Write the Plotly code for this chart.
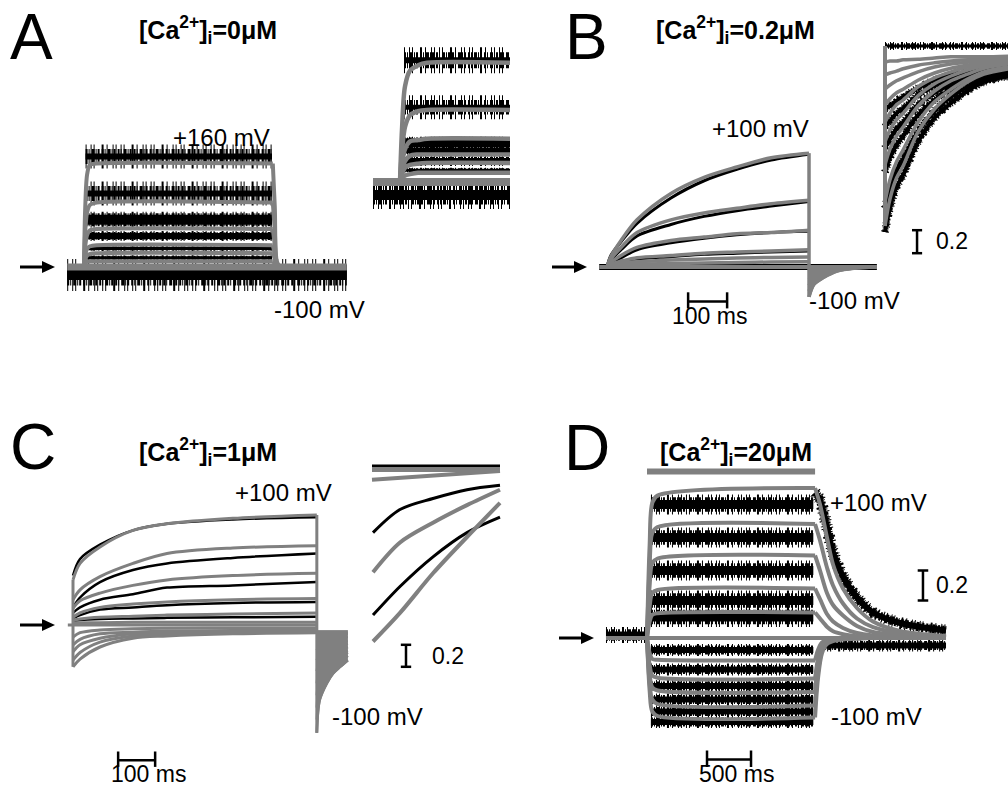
import plotly.graph_objects as go

W, H = 1008, 792
GREY = "#808080"
BLACK = "#000000"
FONT = "Liberation Sans, Arial, sans-serif"

# ============================ DATA ============================
# time in ms, current normalised (scale bar = 0.2)

# ---- Panel A : [Ca2+]i = 0 uM ----
A_t_on = [0, 3, 8, 15, 32, 472]
A_fit_on = [
    [0, 0.51, 0.81, 0.89, 0.90, 0.90],
    [0, 0.30, 0.48, 0.54, 0.56, 0.56],
    [0, 0.18, 0.28, 0.32, 0.33, 0.33],
    [0, 0.10, 0.16, 0.18, 0.19, 0.19],
    [0, 0.06, 0.10, 0.115, 0.12, 0.12],
    [0, 0.03, 0.045, 0.05, 0.05, 0.05],
]
A_t_off = [472, 477, 482, 490]
A_fit_off = [
    [0.90, 0.52, 0.05, 0],
    [0.56, 0.32, 0.03, 0],
    [0.33, 0.19, 0.02, 0],
    [0.19, 0.11, 0.01, 0],
    [0.12, 0.07, 0.01, 0],
    [0.05, 0.03, 0.0, 0],
]
A_t_all = [-42, 657]
A_t_data = [4, 470]
A_data_level = [0.96, 0.64, 0.41, 0.27, 0.16, 0.08]
A_noise_base = -0.07

# A inset (activation onset, expanded)
AI_t_all = [-27, 110]
AI_t = [0, 2, 5, 10, 18, 27, 110]
AI_fit = [
    [0, 0.40, 0.73, 0.85, 0.89, 0.91, 0.91],
    [0, 0.23, 0.42, 0.51, 0.54, 0.55, 0.55],
    [0, 0.14, 0.25, 0.31, 0.32, 0.33, 0.33],
    [0, 0.08, 0.16, 0.20, 0.21, 0.21, 0.21],
    [0, 0.06, 0.11, 0.13, 0.14, 0.145, 0.145],
    [0, 0.03, 0.05, 0.06, 0.07, 0.07, 0.07],
]
AI_t_data = [4, 110]
AI_data_level = [0.93, 0.57, 0.30, 0.24, 0.16, 0.09]
AI_noise_base = -0.10

# ---- Panel B : [Ca2+]i = 0.2 uM ----
B_t_all = [-20, 692]
B_t_on = [0, 10, 36, 77, 164, 249, 333, 421, 518]
B_fit_on = [
    [0, 0.09, 0.23, 0.41, 0.64, 0.78, 0.87, 0.95, 0.99],
    [0, 0.07, 0.17, 0.30, 0.41, 0.47, 0.51, 0.55, 0.58],
    [0, 0.04, 0.10, 0.17, 0.23, 0.26, 0.29, 0.30, 0.32],
    [0, 0.026, 0.05, 0.08, 0.10, 0.12, 0.13, 0.14, 0.15],
    [0, 0.017, 0.035, 0.045, 0.06, 0.07, 0.078, 0.083, 0.087],
    [0, 0.01, 0.017, 0.026, 0.03, 0.035, 0.04, 0.043, 0.045],
]
B_data_on = [
    [0, 0.10, 0.22, 0.38, 0.60, 0.75, 0.85, 0.93, 0.98],
    [0, 0.06, 0.15, 0.27, 0.37, 0.44, 0.49, 0.53, 0.57],
    [0, 0.03, 0.08, 0.15, 0.21, 0.25, 0.28, 0.30, 0.31],
    [0, 0.02, 0.05, 0.07, 0.09, 0.11, 0.12, 0.13, 0.14],
]
B_t_off = [518, 531, 556, 590, 633, 692]
B_fit_off = [
    [-0.26, -0.15, -0.09, -0.035, -0.01, 0],
    [-0.21, -0.12, -0.07, -0.03, -0.008, 0],
    [-0.16, -0.09, -0.055, -0.022, -0.006, 0],
    [-0.11, -0.065, -0.04, -0.016, -0.004, 0],
    [-0.07, -0.04, -0.025, -0.01, -0.003, 0],
    [-0.03, -0.018, -0.011, -0.005, -0.001, 0],
]

# B inset (tail currents, expanded)
BI_t = [0, 3, 7, 11, 20, 30, 40, 50, 60, 75]
BI_fit = [
    [-0.29, -0.245, -0.21, -0.19, -0.133, -0.095, -0.07, -0.05, -0.037, -0.028],
    [-0.25, -0.213, -0.183, -0.163, -0.117, -0.083, -0.062, -0.045, -0.033, -0.025],
    [-0.188, -0.162, -0.14, -0.125, -0.09, -0.065, -0.048, -0.037, -0.027, -0.02],
    [-0.15, -0.13, -0.113, -0.102, -0.073, -0.053, -0.04, -0.03, -0.023, -0.018],
    [-0.117, -0.102, -0.088, -0.08, -0.058, -0.043, -0.033, -0.025, -0.02, -0.017],
    [-0.088, -0.078, -0.068, -0.062, -0.047, -0.035, -0.027, -0.022, -0.017, -0.013],
    [-0.062, -0.055, -0.048, -0.043, -0.033, -0.025, -0.02, -0.017, -0.013, -0.012],
    [-0.038, -0.035, -0.032, -0.028, -0.022, -0.018, -0.015, -0.013, -0.012, -0.01],
    [-0.017, -0.015, -0.015, -0.013, -0.012, -0.01, -0.008, -0.008, -0.008, -0.007],
]
BI_data = [
    [-0.30, -0.26, -0.225, -0.205, -0.15, -0.11, -0.085, -0.065, -0.05, -0.04],
    [-0.26, -0.228, -0.198, -0.178, -0.132, -0.098, -0.075, -0.058, -0.045, -0.036],
    [-0.20, -0.176, -0.155, -0.14, -0.105, -0.08, -0.062, -0.05, -0.04, -0.032],
    [-0.16, -0.145, -0.128, -0.117, -0.088, -0.068, -0.054, -0.043, -0.035, -0.03],
    [-0.125, -0.115, -0.102, -0.094, -0.072, -0.056, -0.045, -0.037, -0.031, -0.027],
    [-0.095, -0.09, -0.081, -0.075, -0.06, -0.047, -0.039, -0.033, -0.028, -0.024],
]
BI_noise_top = 0.01

# ---- Panel C : [Ca2+]i = 1 uM ----
C_t_all = [-14, 659]
C_t_on = [0, 19, 73, 162, 254, 432, 659]
C_fit_on = [
    [0.41, 0.56, 0.71, 0.86, 0.92, 0.97, 1.00],
    [0.23, 0.32, 0.44, 0.56, 0.65, 0.70, 0.72],
    [0.15, 0.22, 0.29, 0.36, 0.41, 0.45, 0.47],
    [0.07, 0.11, 0.16, 0.19, 0.21, 0.23, 0.24],
    [0.045, 0.055, 0.07, 0.08, 0.09, 0.10, 0.11],
    [0.02, 0.02, 0.02, 0.025, 0.025, 0.025, 0.025],
    [-0.11, -0.07, -0.045, -0.035, -0.03, -0.027, -0.027],
    [-0.18, -0.13, -0.08, -0.065, -0.055, -0.05, -0.045],
    [-0.245, -0.18, -0.12, -0.08, -0.065, -0.06, -0.055],
    [-0.32, -0.25, -0.155, -0.10, -0.08, -0.07, -0.065],
    [-0.38, -0.31, -0.20, -0.12, -0.10, -0.08, -0.07],
]
C_data_on = [
    [0.45, 0.60, 0.73, 0.86, 0.92, 0.96, 0.98],
    [0.16, 0.25, 0.39, 0.50, 0.56, 0.61, 0.65],
    [0.11, 0.16, 0.23, 0.28, 0.34, 0.36, 0.39],
    [0.06, 0.09, 0.14, 0.16, 0.18, 0.20, 0.21],
    [0.035, 0.045, 0.055, 0.06, 0.065, 0.07, 0.075],
]
C_t_off = [659, 667, 686, 703, 722, 743]
C_fit_off = [
    [-0.98, -0.68, -0.53, -0.44, -0.38, -0.32],
    [-0.86, -0.60, -0.46, -0.39, -0.34, -0.28],
    [-0.75, -0.52, -0.41, -0.35, -0.30, -0.25],
    [-0.64, -0.45, -0.35, -0.30, -0.26, -0.23],
    [-0.53, -0.37, -0.30, -0.25, -0.23, -0.20],
    [-0.42, -0.30, -0.25, -0.21, -0.19, -0.17],
    [-0.32, -0.24, -0.19, -0.16, -0.155, -0.145],
    [-0.23, -0.17, -0.145, -0.13, -0.12, -0.11],
    [-0.145, -0.12, -0.10, -0.09, -0.08, -0.08],
]
C_tail_level = -0.06

# C inset (expanded)
CI_t_flat = [0, 128]
CI_fit_flat = [[1.41, 1.41], [1.32, 1.40]]
CI_data_flat = [[1.445, 1.445]]
CI_t = [1, 28, 61, 95, 128]
CI_fit = [
    [0.48, 0.75, 0.93, 1.09, 1.23],
    [-0.15, 0.11, 0.47, 0.80, 1.11],
]
CI_data = [
    [0.84, 1.05, 1.15, 1.23, 1.27],
    [0.09, 0.35, 0.62, 0.84, 0.98],
]

# ---- Panel D : [Ca2+]i = 20 uM ----
D_t_all = [-466, 3398]
D_t_on = [0, 30, 60, 120, 1910]
D_fit_on = [
    [0, 0.62, 0.90, 0.95, 1.00],
    [0, 0.48, 0.70, 0.74, 0.76],
    [0, 0.35, 0.50, 0.53, 0.55],
    [0, 0.21, 0.30, 0.32, 0.33],
    [0, 0.11, 0.155, 0.165, 0.17],
    [0, -0.10, -0.14, -0.145, -0.15],
    [0, -0.18, -0.25, -0.265, -0.27],
    [0, -0.24, -0.33, -0.35, -0.36],
    [0, -0.30, -0.41, -0.44, -0.45],
    [0, -0.35, -0.49, -0.52, -0.53],
]
D_t_off_pos = [1910, 1966, 2045, 2114, 2227, 2386, 2568, 2875, 3398]
D_fit_off_pos = [
    [1.00, 0.89, 0.67, 0.49, 0.33, 0.20, 0.11, 0.047, 0.013],
    [0.76, 0.65, 0.47, 0.35, 0.23, 0.13, 0.073, 0.033, 0.007],
    [0.55, 0.45, 0.30, 0.22, 0.15, 0.08, 0.04, 0.02, 0.003],
    [0.33, 0.26, 0.16, 0.11, 0.067, 0.033, 0.017, 0.007, 0],
    [0.17, 0.13, 0.075, 0.045, 0.025, 0.012, 0.005, 0.002, 0],
]
D_data_off = [0.97, 0.92, 0.74, 0.57, 0.41, 0.27, 0.17, 0.10, 0.05]
D_t_off_neg = [1910, 1943, 1989, 2045, 2159, 2534, 3398]
D_fit_off_neg = [
    [-0.15, -0.08, -0.03, -0.011, -0.004, 0, 0],
    [-0.27, -0.14, -0.05, -0.02, -0.007, 0, 0],
    [-0.36, -0.18, -0.07, -0.027, -0.009, 0, 0],
    [-0.45, -0.23, -0.085, -0.034, -0.011, 0, 0],
    [-0.53, -0.27, -0.10, -0.04, -0.013, 0, 0],
]
D_t_data = [45, 1890]
D_data_level_pos = [0.89, 0.67, 0.45, 0.25, 0.14]
D_data_level_neg = [-0.08, -0.21, -0.32, -0.41, -0.49, -0.56]
D_t_pre_noise = [-466, 0]
D_pre_noise = 0.02
D_t_post_noise = [1990, 3398]
D_post_noise = -0.05
D_bar_level = 1.11

# scale bars
B_time_bar = 100
C_time_bar = 100
D_time_bar = 500
AMP_BAR = 0.2

# ============================ LAYOUT HELPERS ============================
fig = go.Figure()
AX = {}


def px_axes(key, idx, box, x0, kx, y0, ky):
    L, R, T, B = box
    sx = "" if idx == 1 else str(idx)
    fig.layout["xaxis" + sx] = dict(domain=[L / W, min(R / W, 1)], range=[(L - x0) / kx, (min(R, W) - x0) / kx],
                                    visible=False, anchor="y" + sx, fixedrange=True)
    fig.layout["yaxis" + sx] = dict(domain=[1 - B / H, 1 - T / H], range=[(y0 - B) / ky, (y0 - T) / ky],
                                    visible=False, anchor="x" + sx, fixedrange=True)
    AX[key] = ("x" + sx, "y" + sx)


px_axes("A", 1, (0, 504, 0, 396), 84, 0.4, 267, 115)
px_axes("AI", 2, (362, 510, 30, 230), 400, 1.0, 182, 131)
px_axes("B", 3, (504, 1008, 0, 396), 607, 0.39, 267, 115)
px_axes("BI", 4, (880, 1008, 30, 240), 885, 1.65, 52, 600)
px_axes("C", 5, (0, 504, 396, 792), 73, 0.37, 625, 110)
px_axes("CI", 6, (360, 504, 450, 660), 372, 1.0, 625, 110)
px_axes("D", 7, (504, 1008, 396, 792), 647, 0.088, 638, 150)


def lines(key, segs, color, width, shape="spline", fill=None, fillcolor=None, dash=None):
    xs, ys = [], []
    for tx, vy in segs:
        xs += list(tx) + [None]
        ys += list(vy) + [None]
    xa, ya = AX[key]
    fig.add_trace(go.Scatter(x=xs, y=ys, mode="lines", xaxis=xa, yaxis=ya,
                             line=dict(color=color, width=width, shape=shape, smoothing=0.9, dash=dash),
                             fill=fill, fillcolor=fillcolor, connectgaps=False,
                             hoverinfo="skip", showlegend=False))


def flat(t, v):
    return (t, [v] * len(t))


SPARSE = "1px,4px,1px,2px,1px,7px,2px,3px,1px,5px,1px,2px"
DENSE = "2px,1px,1px,2px,3px,1px,1px,1px,2px,2px"


def noisy(key, segs, core, halo, shape="linear"):
    # recorded (noisy) trace: dense core plus irregularly hatched bands standing for noise spikes
    lines(key, segs, BLACK, halo, shape, dash=SPARSE)
    lines(key, segs, BLACK, core + (halo - core) * 0.5, shape, dash=DENSE)
    lines(key, segs, BLACK, core, shape)


# ============================ PANEL A ============================
noisy("A", [flat(A_t_all, A_noise_base)], 10, 32)
for lv, (c, h) in zip(A_data_level, [(6, 24), (6, 24), (10, 16), (6, 10), (3, 5), (3, 5)]):
    noisy("A", [flat(A_t_data, lv)], c, h)
lines("A", [flat(A_t_all, 0)], GREY, 7, "linear")
lines("A", [(A_t_on, f) for f in A_fit_on] + [(A_t_off, f) for f in A_fit_off], GREY, 4)

noisy("AI", [flat(AI_t_all, AI_noise_base)], 10, 28)
for lv, (c, h) in zip(AI_data_level, [(6, 26), (5, 24), (9, 12), (6, 10), (6, 10), (3, 5)]):
    noisy("AI", [flat(AI_t_data, lv)], c, h)
lines("AI", [flat(AI_t_all, 0)], GREY, 8, "linear")
lines("AI", [(AI_t, f) for f in AI_fit], GREY, 4.5)

# ============================ PANEL B ============================
lines("B", [flat(B_t_all, 0)], BLACK, 6, "linear")
lines("B", [(B_t_on, d) for d in B_data_on], BLACK, 3)
lines("B", [flat(B_t_all, 0)], GREY, 4, "linear")
lines("B", [flat(B_t_off, 0)], GREY, 0, "linear")
lines("B", [(B_t_off, B_fit_off[0])], GREY, 3, fill="tonexty", fillcolor=GREY)
lines("B", [(B_t_on, f) for f in B_fit_on] + [(B_t_off, f) for f in B_fit_off], GREY, 3.5)
lines("B", [([B_t_on[-1], B_t_on[-1]], [max(f[-1] for f in B_fit_on), min(f[0] for f in B_fit_off)])],
      GREY, 3.5, "linear")

noisy("BI", [flat([BI_t[0], BI_t[-1]], BI_noise_top)], 3, 8)
noisy("BI", [(BI_t, d) for d in BI_data], 4, 8, "spline")
lines("BI", [([BI_t[0], BI_t[0]], [BI_noise_top, min(f[0] for f in BI_fit)])], GREY, 4, "linear")
lines("BI", [(BI_t, f) for f in BI_fit], GREY, 3.5)

# ============================ PANEL C ============================
lines("C", [(C_t_on, d) for d in C_data_on], BLACK, 2.5)
lines("C", [flat(C_t_all, 0)], GREY, 3, "linear")
lines("C", [flat(C_t_off, C_tail_level)], GREY, 3, "linear")
lines("C", [(C_t_off, C_fit_off[0])], GREY, 2.5, fill="tonexty", fillcolor=GREY)
lines("C", [(C_t_off, f) for f in C_fit_off], GREY, 2.5)
lines("C", [(C_t_on, f) for f in C_fit_on], GREY, 3)
lines("C", [([0, 0], [min(f[0] for f in C_fit_on), max(f[0] for f in C_fit_on)]),
            ([C_t_on[-1], C_t_on[-1]], [max(f[-1] for f in C_fit_on), min(f[0] for f in C_fit_off)])],
      GREY, 3, "linear")

lines("CI", [flat(CI_t_flat, d[0]) for d in CI_data_flat], BLACK, 3, "linear")
lines("CI", [(CI_t, d) for d in CI_data], BLACK, 3)
lines("CI", [(CI_t_flat, f) for f in CI_fit_flat], GREY, 4, "linear")
lines("CI", [(CI_t, f) for f in CI_fit], GREY, 4)

# ============================ PANEL D ============================
noisy("D", [flat(D_t_pre_noise, D_pre_noise)], 7, 16)
noisy("D", [flat(D_t_post_noise, D_post_noise)], 6, 12)
for lv in D_data_level_pos:
    noisy("D", [flat(D_t_data, lv)], 9, 20)
for lv in D_data_level_neg:
    noisy("D", [flat(D_t_data, lv)], 6, 12)
noisy("D", [(D_t_off_pos, D_data_off)], 6, 12, "spline")
lines("D", [flat(D_t_all, 0)], GREY, 4, "linear")
lines("D", [(D_t_on, f) for f in D_fit_on], GREY, 4)
lines("D", [(D_t_off_pos, f) for f in D_fit_off_pos] + [(D_t_off_neg, f) for f in D_fit_off_neg], GREY, 4)

# ============================ DECORATIONS ============================
shapes = []


def seg(key, x0, y0, x1, y1, color=BLACK, width=2.5):
    xa, ya = AX[key]
    shapes.append(dict(type="line", xref=xa, yref=ya, x0=x0, y0=y0, x1=x1, y1=y1,
                       line=dict(color=color, width=width), layer="above"))


def time_bar(key, t0, length, y, tick_up, tick_dn):
    seg(key, t0, y, t0 + length, y)
    seg(key, t0, y + tick_up, t0, y - tick_dn)
    seg(key, t0 + length, y + tick_up, t0 + length, y - tick_dn)


def amp_bar(key, t, half, y0, length):
    seg(key, t, y0, t, y0 + length)
    seg(key, t - half, y0, t + half, y0)
    seg(key, t - half, y0 + length, t + half, y0 + length)


time_bar("B", 208, B_time_bar, -0.30, 0.08, 0.06)
amp_bar("B", 795, 13, 0.12, AMP_BAR)
time_bar("C", 122, C_time_bar, -1.23, 0.08, 0.06)
amp_bar("C", 900, 14, -0.38, AMP_BAR)
time_bar("D", 682, D_time_bar, -0.81, 0.06, 0.05)
amp_bar("D", 3136, 60, 0.25, AMP_BAR)
seg("D", 0, D_bar_level, D_t_on[-1], D_bar_level, GREY, 6)


def arrow(x_tip, y, length):
    # shaft + filled head, in page pixels
    xt, yt = x_tip / W, 1 - y / H
    shapes.append(dict(type="line", xref="paper", yref="paper", x0=(x_tip - length) / W, y0=yt,
                       x1=(x_tip - 8) / W, y1=yt, line=dict(color=BLACK, width=3)))
    shapes.append(dict(type="path", xref="paper", yref="paper", fillcolor=BLACK, line=dict(width=0),
                       path="M %f,%f L %f,%f L %f,%f Z" % (xt, yt, (x_tip - 13) / W, 1 - (y - 6) / H,
                                                           (x_tip - 13) / W, 1 - (y + 6) / H)))


for x, y in [(55, 267), (587, 267), (55, 625), (594, 638)]:
    arrow(x, y, 35)

ann = []


def txt(x, y, s, size, xanchor="center", bold=False):
    ann.append(dict(x=x / W, y=1 - y / H, xref="paper", yref="paper", text=("<b>%s</b>" % s) if bold else s,
                    showarrow=False, xanchor=xanchor, yanchor="middle",
                    font=dict(family=FONT, size=size, color=BLACK)))


for s, x, y in [("A", 31, 37), ("B", 586, 37), ("C", 33, 447), ("D", 587, 448)]:
    txt(x, y, s, 64)

CA = "[Ca<sup>2+</sup>]<sub>i</sub>=%sμM"
for v, x, y in [("0", 208, 30), ("0.2", 735, 30), ("1", 208, 452), ("20", 736, 452)]:
    txt(x, y, CA % v, 25, bold=True)

for s, x, y in [("+160 mV", 221, 137), ("-100 mV", 319, 309), ("+100 mV", 760, 129), ("-100 mV", 854, 300),
                ("+100 mV", 283, 492), ("-100 mV", 377, 716), ("+100 mV", 878, 502), ("-100 mV", 876, 716)]:
    txt(x, y, s, 24)

for s, x, y in [("100 ms", 709, 316), ("100 ms", 148, 774), ("500 ms", 736, 774)]:
    txt(x, y, s, 23)
for x, y in [(934, 241), (430, 656), (934, 585)]:
    txt(x, y, "0.2", 23, xanchor="left")

fig.update_layout(width=W, height=H, margin=dict(l=0, r=0, t=0, b=0), paper_bgcolor="white",
                  plot_bgcolor="rgba(0,0,0,0)", shapes=shapes, annotations=ann, showlegend=False)
fig.write_html("out.html")
